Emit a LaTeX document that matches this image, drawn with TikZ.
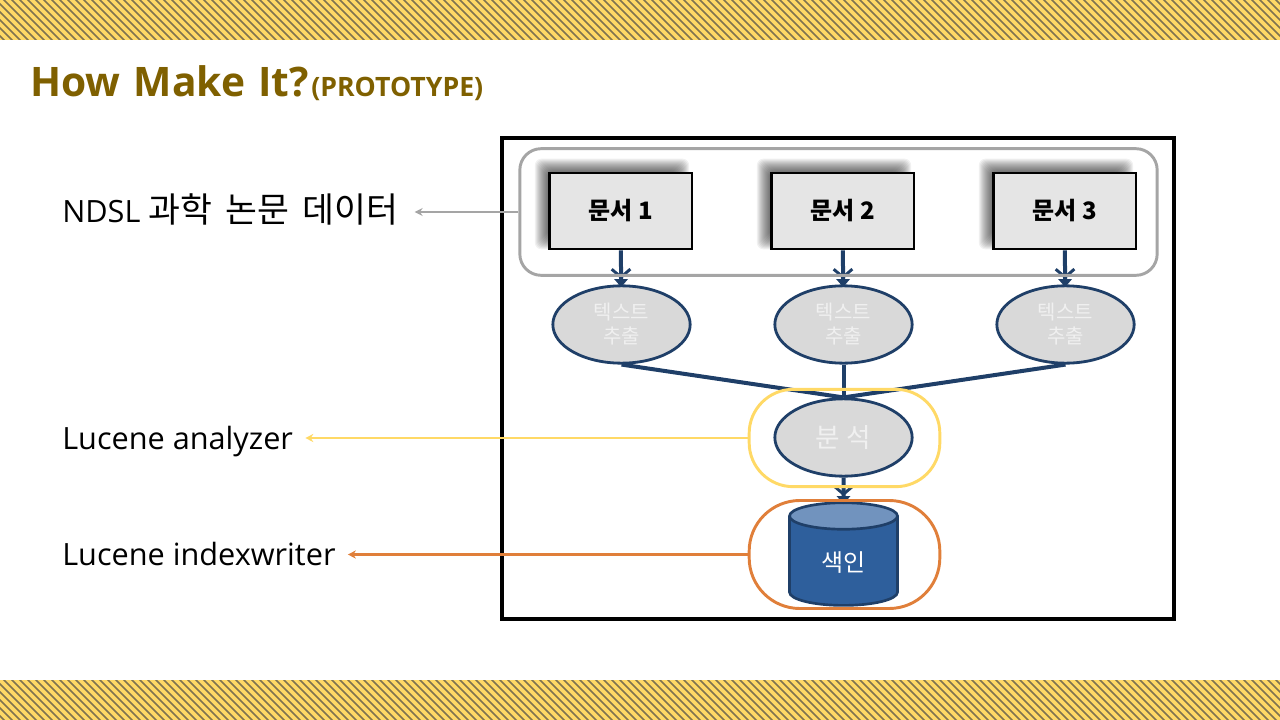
\documentclass[tikz,border=0pt]{standalone}
\usepackage{fontspec}
\setmainfont{Noto Sans CJK KR}
\newfontfamily\latinfont{Open Sans}
\usepackage{tikz}
\usetikzlibrary{positioning,arrows.meta,backgrounds,shapes.geometric}
\definecolor{bandyellow}{HTML}{FFD966}
\definecolor{bandline}{HTML}{7F7350}
\definecolor{titlegold}{HTML}{7F6000}
\definecolor{flownavy}{HTML}{1F3F68}
\definecolor{dbblue}{HTML}{2E5F9C}
\definecolor{dbtop}{HTML}{7193BE}
\definecolor{callgrey}{HTML}{A5A5A5}
\definecolor{callyellow}{HTML}{FFD966}
\definecolor{callorange}{HTML}{E07F3A}

\begin{document}
\begin{tikzpicture}
    [x=0.75pt,y=-0.75pt,
    doc/.style={rectangle,draw=black,fill=black!10,line width=2pt,minimum width=107pt,minimum height=57pt,font=\fontsize{18}{18}\selectfont\bfseries},
    stepoval/.style={ellipse,draw=flownavy,fill=black!15,line width=2.1pt,minimum width=103pt,minimum height=58pt,inner sep=0pt,text=black!6,align=center,font=\fontsize{15}{18}\selectfont},
    dbstore/.style={cylinder,shape border rotate=90,aspect=0.5,draw=flownavy,line width=2pt,minimum width=81pt,minimum height=77pt,cylinder uses custom fill,cylinder body fill=dbblue,cylinder end fill=dbtop,text=white,font=\fontsize{18}{18}\selectfont},
    callout/.style={rectangle,draw=#1,line width=2.2pt,fill=none},
    sidelabel/.style={anchor=west,inner ysep=0pt,inner xsep=9pt,text height=19pt,text depth=2.5pt,font=\fontsize{23}{24}\selectfont},
    flow/.style={draw=flownavy,line width=3pt},
    flowarrow/.style={flow,-{Straight Barb[length=6pt,width=14pt,line width=2.2pt]Triangle[length=6pt,width=10pt,sep=-2pt]}},
    pointer/.style={draw=#1,line width=1.6pt,-{Stealth[length=6pt,width=6pt]}}]
    \useasboundingbox (0,0) rectangle (1280,720);

    % bands top and bottom
    \foreach \bandtop in {0,680} {
      \begin{scope}
        \clip (0,\bandtop) rectangle (1280,\bandtop+40);
        \fill[bandyellow] (0,\bandtop) rectangle (1280,\bandtop+40);
        \foreach \i in {-10,...,165}
          \draw[bandline,line width=1.2pt] (\i*8,\bandtop-4) -- (\i*8+48,\bandtop+44);
      \end{scope}
    }

    \node[anchor=base west,inner sep=0pt,text=titlegold,font=\latinfont\fontsize{30.5}{36}\selectfont\bfseries] (title) at (30,97) {\spaceskip=10pt How Make It?};
    \node[anchor=base west,inner sep=0pt,text=titlegold,font=\latinfont\fontsize{20}{20}\selectfont\bfseries] (subtitle) at (311,97) {(PROTOTYPE)};

    \node[rectangle,draw=black,line width=3pt,minimum width=504pt,minimum height=360pt] (frame) at (837.5,378.5) {};

    \node[doc] (doc1) at (620.5,211) {문서 1};
    \node[doc] (doc2) at (842.5,211) {문서 2};
    \node[doc] (doc3) at (1064.5,211) {문서 3};

    \node[stepoval] (extract1) at (621.5,324.5) {텍스트\\추출};
    \node[stepoval] (extract2) at (843.5,324.5) {텍스트\\추출};
    \node[stepoval] (extract3) at (1065.5,324.5) {텍스트\\추출};

    \node[stepoval,font=\fontsize{20}{18}\selectfont] (analysis) at (843.5,437.5) {분 석};
    \node[dbstore] (index) at (843.5,564) {\raisebox{4pt}{색인}};

    % blurred shadow behind the documents
    \begin{scope}[on background layer]
      \foreach \d in {doc1,doc2,doc3}
        \foreach \b in {8,7,...,-5}
          \fill[black,opacity=.055,rounded corners=5pt]
            ([shift={(-5-\b,-5-\b)}]\d.north west) rectangle ([shift={(-12+\b,-9+\b)}]\d.south east);
    \end{scope}

    \draw[flowarrow] (doc1) -- (extract1);
    \draw[flowarrow] (doc2) -- (extract2);
    \draw[flowarrow] (doc3) -- (extract3);
    \draw[flow] (extract1.south) -- (analysis.north);
    \draw[flow] (extract2.south) -- (analysis.north);
    \draw[flow] (extract3.south) -- (analysis.north);
    \draw[flowarrow] (analysis) -- (index);

    \node[callout=callgrey,rounded corners=16pt,minimum width=478pt,minimum height=95pt] (docgroup) at (838.5,212) {};
    \node[callout=callyellow,rounded corners=33pt,minimum width=143pt,minimum height=73pt] (analyzergroup) at (844.5,438) {};
    \node[callout=callorange,rounded corners=38pt,minimum width=143pt,minimum height=81pt] (writergroup) at (844.5,554.5) {};

    \node[sidelabel,inner xsep=12pt] (datalabel) at (46,212) {\latinfont NDSL \normalfont\fontsize{26}{24}\selectfont\spaceskip=10pt 과학 논문 데이터};
    \node[sidelabel] (analyzerlabel) at (50,438) {\latinfont Lucene analyzer};
    \node[sidelabel] (writerlabel) at (50,554.5) {\latinfont Lucene indexwriter};

    \draw[pointer=callgrey] (docgroup.west) -- (datalabel.east);
    \draw[pointer=callyellow] (analyzergroup.west) -- (analyzerlabel.east);
    \draw[pointer=callorange] (writergroup.west) -- (writerlabel.east);

\end{tikzpicture}
\end{document}
